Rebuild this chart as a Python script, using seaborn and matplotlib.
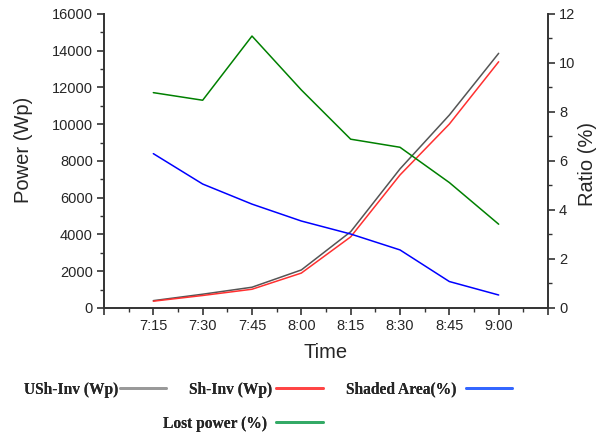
import numpy as np
import matplotlib
matplotlib.use("Agg")
import matplotlib.pyplot as plt
from matplotlib.lines import Line2D
from matplotlib.ticker import MultipleLocator
import seaborn as sns

# Data
times = ['7:15', '7:30', '7:45', '8:00', '8:15', '8:30', '8:45', '9:00']
ush_inv = [400, 750, 1130, 2070, 4150, 7570, 10500, 13860]
sh_inv = [370, 680, 1020, 1900, 3870, 7240, 10010, 13400]
shaded_area = [6.30, 5.06, 4.24, 3.55, 3.02, 2.37, 1.08, 0.53]
lost_power = [8.79, 8.48, 11.10, 8.90, 6.89, 6.56, 5.12, 3.42]

labels = ['USh-Inv (Wp)', 'Sh-Inv (Wp)', 'Shaded Area(%)', 'Lost power (%)']
line_colors = ['#555555', '#ff3030', '#0000ff', '#008000']
legend_colors = ['#999999', '#ff4444', '#3366ff', '#33aa66']

sns.set_style("ticks")
plt.rcParams['font.family'] = ['Liberation Sans', 'DejaVu Sans']

x = np.arange(1, len(times) + 1)

fig = plt.figure(figsize=(6.06, 4.36), dpi=100)
ax = fig.add_axes([0.1716, 0.2936, 0.7327, 0.6743])
ax2 = ax.twinx()

sns.lineplot(x=x, y=ush_inv, ax=ax, color=line_colors[0], linewidth=1.1)
sns.lineplot(x=x, y=sh_inv, ax=ax, color=line_colors[1], linewidth=1.1)
sns.lineplot(x=x, y=shaded_area, ax=ax2, color=line_colors[2], linewidth=1.1)
sns.lineplot(x=x, y=lost_power, ax=ax2, color=line_colors[3], linewidth=1.1)

ax.set_xlim(0, 9)
ax.set_ylim(0, 16000)
ax2.set_ylim(0, 12)

ax.set_xticks(np.arange(0, 10))
ax.set_xticklabels([''] + times + [''])
ax.xaxis.set_minor_locator(MultipleLocator(0.5))
ax.yaxis.set_major_locator(MultipleLocator(2000))
ax.yaxis.set_minor_locator(MultipleLocator(1000))
ax2.yaxis.set_major_locator(MultipleLocator(2))
ax2.yaxis.set_minor_locator(MultipleLocator(1))

for a in (ax, ax2):
    a.spines['top'].set_visible(False)
    for s in ('left', 'right', 'bottom'):
        a.spines[s].set_color('#333333')
        a.spines[s].set_linewidth(1.4)
    a.tick_params(which='major', direction='out', length=5, width=1.2,
                  color='#333333', labelsize=10.5, pad=3)
    a.tick_params(which='minor', direction='out', length=3, width=1.0,
                  color='#333333')
ax.spines['right'].set_visible(False)
ax2.spines['left'].set_visible(False)
ax2.spines['bottom'].set_visible(False)

ax.set_xlabel('Time', fontsize=14.5)
ax.set_ylabel('Power (Wp)', fontsize=14.5)
ax2.set_ylabel('Ratio (%)', fontsize=14.5)
ax.xaxis.set_label_coords(0.5, -0.12)
ax.yaxis.set_label_coords(-0.16, 0.537)
ax2.yaxis.set_label_coords(1.068, 0.49)

# Legend below the plot: one entry per legend, label left of its line sample
leg_font = {'family': 'Liberation Serif', 'weight': 'bold', 'size': 11.2}
anchors = [(0.157, 0.106), (0.422, 0.106), (0.708, 0.106), (0.401, 0.028)]
pads = [0.1, 0.3, 0.6, 0.6]
for lab, col, anc, pad in zip(labels, legend_colors, anchors, pads):
    leg = fig.legend([Line2D([], [], color=col, linewidth=2)], [lab],
                     loc='center', bbox_to_anchor=anc, frameon=False,
                     markerfirst=False, prop=leg_font, handlelength=3.0,
                     handletextpad=pad, borderpad=0, borderaxespad=0)
    fig.add_artist(leg)

fig.savefig('out.png', dpi=100)
